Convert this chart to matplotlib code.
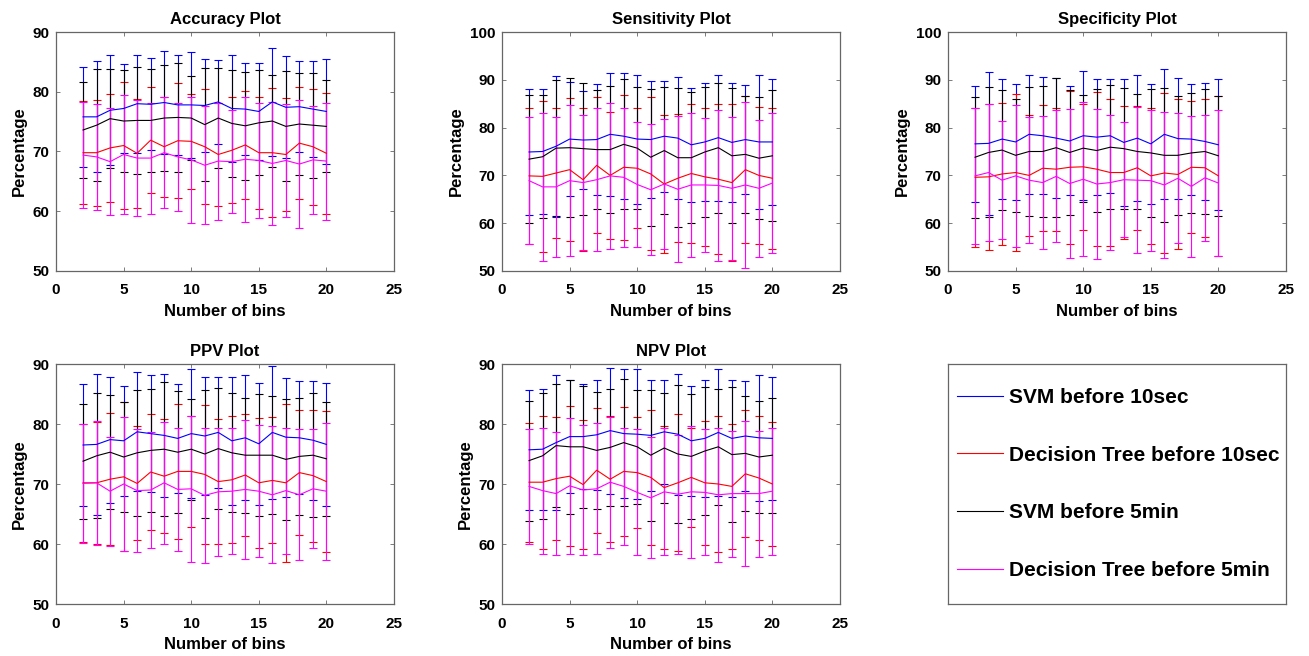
import numpy as np
import matplotlib
matplotlib.use("Agg")
from matplotlib import pyplot as plt

plt.rcParams['font.family'] = ['Liberation Sans', 'DejaVu Sans']
plt.rcParams['font.weight'] = 'bold'

bins = [2, 3, 4, 5, 6, 7, 8, 9, 10, 11, 12, 13, 14, 15, 16, 17, 18, 19, 20]
names = ["SVM before 10sec", "Decision Tree before 10sec", "SVM before 5min", "Decision Tree before 5min"]
colors = ["#0000ff", "#ff0000", "#000000", "#ff00ff"]

# Accuracy
acc_svm10 = [75.8, 75.8, 76.9, 77.2, 78.0, 77.9, 78.2, 77.8, 77.8, 77.7, 78.3, 77.2, 77.1, 76.7, 78.3, 77.4, 77.5, 77.1, 76.7]
acc_svm10_sd = [8.4, 9.3, 9.2, 7.5, 8.2, 7.7, 8.7, 8.4, 8.9, 7.8, 7.0, 9.0, 7.7, 8.1, 9.0, 8.5, 7.6, 8.0, 8.8]
acc_dt10 = [69.8, 69.8, 70.6, 71.0, 69.7, 71.9, 70.8, 71.8, 71.7, 70.8, 69.5, 70.2, 71.1, 69.8, 69.8, 69.5, 71.4, 70.8, 69.7]
acc_dt10_sd = [8.6, 8.9, 9.1, 10.7, 9.1, 8.9, 8.4, 9.6, 7.9, 9.6, 8.7, 8.9, 9.0, 9.4, 10.8, 9.4, 9.4, 9.7, 10.1]
acc_svm5 = [73.6, 74.4, 75.5, 75.1, 75.2, 75.2, 75.6, 75.7, 75.6, 74.5, 75.6, 74.7, 74.3, 74.8, 75.1, 74.2, 74.6, 74.4, 74.2]
acc_svm5_sd = [8.1, 9.4, 8.3, 8.6, 8.9, 8.6, 8.8, 9.1, 7.1, 9.4, 8.3, 8.9, 9.0, 8.8, 7.7, 9.2, 8.6, 8.8, 7.7]
acc_dt5 = [69.4, 69.1, 68.3, 69.5, 68.9, 68.9, 69.8, 69.1, 68.6, 67.7, 68.4, 68.3, 68.7, 68.5, 68.0, 68.5, 67.9, 68.6, 68.4]
acc_dt5_sd = [8.9, 8.9, 8.9, 9.9, 9.7, 9.3, 9.3, 9.0, 10.5, 9.9, 9.8, 8.6, 10.5, 9.7, 10.3, 9.5, 10.7, 9.0, 9.8]

# Sensitivity
sen_svm10 = [74.9, 75.0, 76.1, 77.6, 77.4, 77.5, 78.6, 78.2, 77.6, 77.5, 78.2, 77.8, 76.4, 77.0, 77.9, 76.9, 77.5, 77.0, 77.0]
sen_svm10_sd = [13.2, 13.0, 14.7, 12.0, 10.3, 11.7, 12.9, 13.2, 13.5, 12.3, 11.6, 12.8, 11.9, 12.4, 13.2, 12.4, 11.4, 14.1, 13.2]
sen_dt10 = [69.9, 69.8, 70.5, 71.2, 69.1, 72.1, 70.0, 71.7, 71.5, 70.3, 68.2, 69.4, 70.4, 69.7, 69.2, 68.5, 71.2, 70.0, 69.4]
sen_dt10_sd = [14.2, 15.8, 13.6, 14.9, 14.9, 14.2, 13.3, 15.2, 12.6, 16.0, 14.5, 13.4, 14.5, 14.5, 15.7, 16.4, 15.4, 14.4, 14.7]
sen_svm5 = [73.4, 73.9, 75.7, 75.8, 75.6, 75.4, 75.4, 76.5, 75.7, 73.8, 75.2, 73.7, 73.7, 74.9, 75.8, 74.1, 74.4, 73.6, 74.1]
sen_svm5_sd = [13.4, 12.9, 14.2, 14.6, 13.8, 12.5, 13.2, 13.6, 12.8, 14.3, 13.3, 14.5, 13.7, 13.5, 13.6, 14.1, 12.2, 12.7, 13.7]
sen_dt5 = [68.9, 67.6, 67.6, 68.9, 68.5, 69.1, 69.9, 69.6, 68.1, 67.0, 68.2, 67.1, 68.0, 68.0, 67.9, 67.3, 68.0, 67.3, 68.4]
sen_dt5_sd = [13.3, 15.5, 14.6, 15.8, 14.2, 15.0, 15.2, 14.5, 13.0, 13.7, 13.6, 15.3, 15.1, 14.1, 15.8, 15.0, 17.4, 14.3, 14.6]

# Specificity
spe_svm10 = [76.6, 76.7, 77.6, 77.0, 78.6, 78.3, 77.8, 77.2, 78.3, 78.0, 78.3, 76.9, 77.8, 76.6, 78.6, 77.7, 77.6, 77.1, 76.4]
spe_svm10_sd = [12.1, 14.9, 12.5, 12.2, 12.4, 12.2, 12.5, 11.4, 13.5, 12.1, 11.9, 13.2, 13.2, 12.6, 13.6, 12.6, 11.6, 12.3, 13.7]
spe_dt10 = [69.6, 69.7, 70.3, 70.6, 70.0, 71.5, 71.3, 71.7, 71.8, 71.3, 70.6, 70.6, 71.6, 69.9, 70.5, 70.2, 71.7, 71.6, 69.9]
spe_dt10_sd = [14.6, 15.3, 14.9, 16.5, 12.6, 13.2, 12.9, 16.0, 13.2, 16.1, 15.4, 14.0, 13.0, 14.2, 16.8, 15.7, 13.8, 14.4, 16.7]
spe_svm5 = [73.8, 74.8, 75.3, 74.2, 75.0, 75.0, 75.8, 74.8, 75.7, 75.2, 75.9, 75.6, 75.0, 74.7, 74.2, 74.2, 74.7, 75.0, 74.1]
spe_svm5_sd = [12.7, 13.6, 12.6, 11.8, 13.5, 13.7, 14.5, 13.0, 11.2, 12.9, 13.0, 12.6, 12.1, 13.3, 14.0, 12.5, 12.5, 13.1, 12.5]
spe_dt5 = [69.9, 70.6, 69.0, 69.9, 69.0, 68.5, 69.8, 68.3, 69.2, 68.2, 68.5, 69.1, 69.0, 68.9, 68.0, 69.4, 67.7, 69.5, 68.4]
spe_dt5_sd = [14.2, 14.4, 12.3, 14.9, 13.2, 13.9, 13.8, 15.5, 16.1, 15.7, 14.2, 12.0, 15.3, 14.7, 15.2, 13.6, 14.7, 13.2, 15.2]

# PPV
ppv_svm10 = [76.5, 76.6, 77.4, 77.2, 78.7, 78.4, 78.1, 77.6, 78.4, 78.0, 78.6, 77.2, 77.7, 76.7, 78.6, 77.8, 77.7, 77.3, 76.6]
ppv_svm10_sd = [10.1, 11.7, 10.5, 9.2, 9.9, 9.8, 10.3, 9.1, 10.7, 9.9, 9.2, 10.7, 10.4, 10.2, 11.1, 9.9, 9.4, 9.9, 10.2]
ppv_dt10 = [70.2, 70.2, 70.8, 71.2, 70.1, 72.0, 71.3, 72.1, 72.1, 71.6, 70.4, 70.7, 71.5, 70.2, 70.6, 70.2, 71.9, 71.4, 70.4]
ppv_dt10_sd = [9.8, 10.2, 11.0, 12.4, 9.5, 9.6, 9.5, 11.3, 9.3, 11.6, 10.4, 10.6, 10.2, 10.8, 10.5, 13.2, 10.4, 11.0, 11.8]
ppv_svm5 = [73.8, 74.7, 75.3, 74.5, 75.2, 75.6, 75.8, 75.3, 75.8, 75.0, 75.9, 75.2, 74.8, 74.8, 74.8, 74.1, 74.6, 74.8, 74.2]
ppv_svm5_sd = [9.6, 10.4, 9.5, 9.2, 10.5, 10.3, 11.2, 10.2, 8.4, 10.6, 10.1, 9.9, 9.6, 10.2, 9.8, 10.1, 9.7, 10.3, 9.5]
ppv_dt5 = [70.1, 70.2, 68.8, 70.0, 68.9, 69.0, 70.2, 69.1, 69.2, 68.1, 68.7, 68.8, 69.1, 68.8, 68.2, 68.9, 68.2, 69.2, 68.8]
ppv_dt5_sd = [9.9, 10.3, 9.1, 11.1, 10.2, 9.7, 10.2, 10.2, 12.2, 11.2, 10.7, 10.5, 11.6, 11.0, 11.4, 10.5, 10.9, 9.9, 11.4]

# NPV
npv_svm10 = [75.7, 75.8, 76.9, 77.9, 77.9, 78.2, 78.9, 78.4, 78.3, 78.1, 78.7, 78.3, 77.2, 77.6, 78.6, 77.6, 78.0, 77.7, 77.6]
npv_svm10_sd = [10.0, 10.1, 11.2, 9.4, 8.8, 9.2, 10.5, 10.8, 10.8, 9.2, 8.7, 10.1, 9.2, 9.7, 10.6, 9.7, 9.1, 10.5, 10.3]
npv_dt10 = [70.3, 70.3, 70.9, 71.3, 69.9, 72.3, 70.8, 72.1, 71.9, 71.1, 69.4, 70.2, 71.1, 70.2, 70.0, 69.6, 71.7, 71.0, 70.0]
npv_dt10_sd = [9.9, 11.1, 10.3, 11.7, 10.7, 10.4, 10.5, 10.7, 9.3, 11.2, 10.3, 11.4, 8.2, 10.3, 11.4, 10.4, 10.6, 10.4, 10.3]
npv_svm5 = [73.9, 74.7, 76.4, 76.2, 76.2, 75.6, 76.1, 76.9, 76.2, 74.8, 76.0, 75.0, 74.6, 75.5, 76.2, 74.9, 75.1, 74.5, 74.8]
npv_svm5_sd = [10.0, 10.5, 10.3, 11.2, 10.2, 9.7, 9.8, 10.6, 9.5, 10.9, 9.2, 11.5, 10.4, 10.6, 9.7, 11.3, 9.6, 9.3, 9.6]
npv_dt5 = [69.6, 68.9, 68.4, 69.7, 69.0, 69.2, 70.3, 69.6, 68.6, 67.7, 68.7, 68.3, 68.7, 68.6, 68.2, 68.4, 68.4, 68.4, 68.8]
npv_dt5_sd = [9.6, 10.5, 10.2, 11.3, 10.8, 10.9, 10.9, 9.8, 10.5, 10.1, 10.6, 9.9, 11.0, 10.5, 11.2, 10.5, 12.1, 10.5, 10.6]

def panel(ax, title, series, ymax):
    for (m, s), c, lab in zip(series, colors, names):
        ax.errorbar(bins, m, yerr=s, color=c, lw=0.8, elinewidth=0.8,
                    capsize=3, capthick=0.8, label=lab)
    ax.set_xlim(0, 25)
    ax.set_ylim(50, ymax)
    ax.set_xticks([0, 5, 10, 15, 20, 25])
    ax.set_yticks(np.arange(50, ymax + 1, 10))
    ax.set_title(title, fontsize=12, fontweight='bold', pad=6)
    ax.set_xlabel("Number of bins", fontsize=12, fontweight='bold', labelpad=5)
    ax.set_ylabel("Percentage", fontsize=12, fontweight='bold', labelpad=4)
    ax.tick_params(direction='in', top=True, right=True, length=3, width=0.6,
                   color='0.4', labelsize=11)
    ax.tick_params(axis='x', pad=9)
    ax.tick_params(axis='y', pad=5)
    for sp in ax.spines.values():
        sp.set_color('0.4')
        sp.set_linewidth(0.9)

fig = plt.figure(figsize=(13.09, 6.56), dpi=100)
lefts = [56 / 1309, 502 / 1309, 948 / 1309]
w = 338 / 1309
top_b, top_h = 1 - 271 / 656, 239 / 656
bot_b, bot_h = 1 - 604 / 656, 240 / 656

ax1 = fig.add_axes([lefts[0], top_b, w, top_h])
ax2 = fig.add_axes([lefts[1], top_b, w, top_h])
ax3 = fig.add_axes([lefts[2], top_b, w, top_h])
ax4 = fig.add_axes([lefts[0], bot_b, w, bot_h])
ax5 = fig.add_axes([lefts[1], bot_b, w, bot_h])
ax6 = fig.add_axes([lefts[2], bot_b, w, bot_h])

panel(ax1, "Accuracy Plot", [(acc_svm10, acc_svm10_sd), (acc_dt10, acc_dt10_sd),
                             (acc_svm5, acc_svm5_sd), (acc_dt5, acc_dt5_sd)], 90)
panel(ax2, "Sensitivity Plot", [(sen_svm10, sen_svm10_sd), (sen_dt10, sen_dt10_sd),
                                (sen_svm5, sen_svm5_sd), (sen_dt5, sen_dt5_sd)], 100)
panel(ax3, "Specificity Plot", [(spe_svm10, spe_svm10_sd), (spe_dt10, spe_dt10_sd),
                                (spe_svm5, spe_svm5_sd), (spe_dt5, spe_dt5_sd)], 100)
panel(ax4, "PPV Plot", [(ppv_svm10, ppv_svm10_sd), (ppv_dt10, ppv_dt10_sd),
                        (ppv_svm5, ppv_svm5_sd), (ppv_dt5, ppv_dt5_sd)], 90)
panel(ax5, "NPV Plot", [(npv_svm10, npv_svm10_sd), (npv_dt10, npv_dt10_sd),
                        (npv_svm5, npv_svm5_sd), (npv_dt5, npv_dt5_sd)], 90)

# legend box in the sixth slot
ax6.set_xticks([])
ax6.set_yticks([])
for sp in ax6.spines.values():
    sp.set_color('0.4')
    sp.set_linewidth(0.9)
handles = [plt.Line2D([], [], color=c, lw=0.8) for c in colors]
ax6.legend(handles, names, loc='center left', frameon=False,
           handlelength=2.2, handletextpad=0.3, labelspacing=1.85,
           borderaxespad=0.0, borderpad=0.45,
           prop={'family': ['Liberation Sans', 'DejaVu Sans'], 'size': 15, 'weight': 'bold'})

fig.savefig("out.png", dpi=100)
